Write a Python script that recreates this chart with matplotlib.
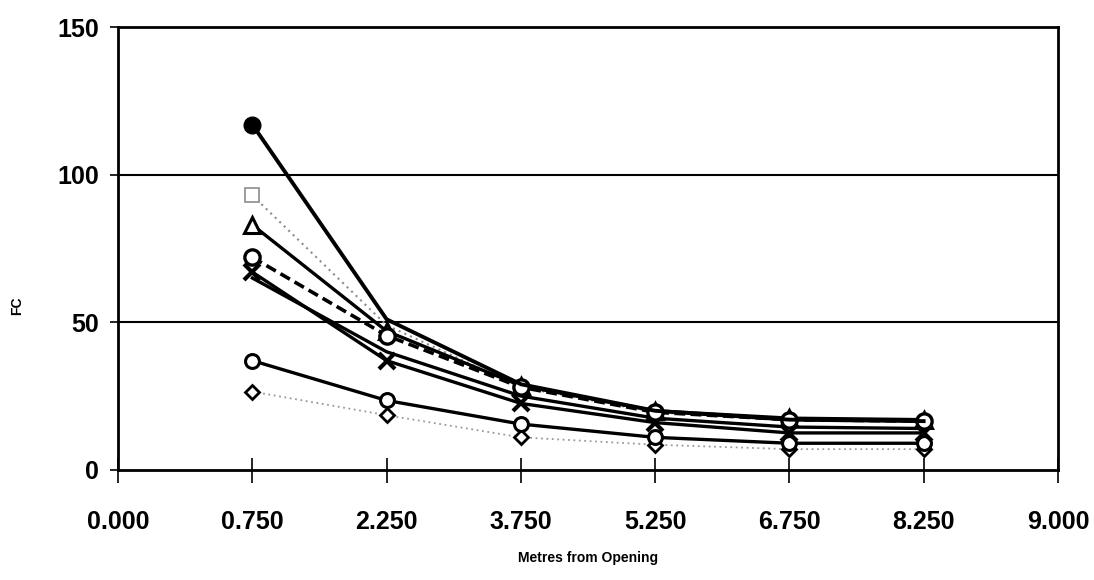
import matplotlib
matplotlib.use("Agg")
import matplotlib.pyplot as plt

# eje x por categorias (distancia a la abertura)
tick_labels = ["0.000", "0.750", "2.250", "3.750", "5.250", "6.750", "8.250", "9.000"]
x_cats = ["0.750", "2.250", "3.750", "5.250", "6.750", "8.250"]

fc_circulo_lleno = [117, 51, 29, 20, 17, 16.5]
fc_cuadrado = [93, 49, 28, 19.5, 17, 16.5]
fc_triangulo = [83, 47, 28.5, 20, 17.5, 17]
fc_circulo = [72, 45.5, 28, 19.5, 17, 16.5]
fc_sin_marca = [65, 40, 25, 17.5, 14.5, 14]
fc_cruz = [67, 37, 22.5, 16, 12.5, 12.5]
fc_circulo_bajo = [37, 23.5, 15.5, 11, 9, 9]
fc_rombo = [26.5, 18.5, 11, 8.5, 7, 7]

plt.rcParams['font.family'] = ['Liberation Sans', 'DejaVu Sans']
plt.rcParams['font.weight'] = 'bold'

x = [tick_labels.index(c) for c in x_cats]

fig = plt.figure(figsize=(10.94, 5.8), dpi=100)
ax = fig.add_axes([0.108, 0.19, 0.859, 0.763])

ax.plot(x, fc_rombo, color='#9a9a9a', lw=1.3, ls=(0, (1, 2)), zorder=2)
ax.plot(x, fc_rombo, ls='none', marker='D', ms=7, mfc='white', mec='black', mew=2, zorder=3)
ax.plot(x, fc_circulo_bajo, color='black', lw=2.4, marker='o', ms=10, mfc='white', mec='black', mew=2.2, zorder=4)
ax.plot(x, fc_sin_marca, color='black', lw=2.4, zorder=3)
ax.plot(x, fc_cruz, color='black', lw=2.4, marker='x', ms=11, mew=3, zorder=4)
ax.plot(x, fc_cuadrado, color='#8c8c8c', lw=1.5, ls=(0, (1, 2)), marker='s', ms=10,
        mfc='white', mec='#8c8c8c', mew=1.2, markevery=[0], zorder=3)
ax.plot(x, fc_triangulo, color='black', lw=2.4, marker='^', ms=12, mfc='white', mec='black', mew=2.2, zorder=4)
ax.plot(x, fc_circulo, color='black', lw=2.6, ls=(0, (3, 1.5)), marker='o', ms=11,
        mfc='white', mec='black', mew=2.4, zorder=5)
ax.plot(x, fc_circulo_lleno, color='black', lw=2.8, marker='o', ms=12, markevery=[0], zorder=5)

ax.set_xlim(0, len(tick_labels) - 1)
ax.set_ylim(0, 150)
ax.set_xticks(range(len(tick_labels)))
ax.set_xticklabels(tick_labels, fontsize=18)
ax.set_yticks([0, 50, 100, 150])
ax.set_yticklabels(["0", "50", "100", "150"], fontsize=18)
ax.tick_params(axis='x', direction='inout', length=18, width=1.2, pad=20)
ax.tick_params(axis='y', direction='out', length=6, width=1.2, pad=8)

for v in [50, 100]:
    ax.axhline(v, color='black', lw=1.5, zorder=1)
for s in ax.spines.values():
    s.set_linewidth(2)

ax.set_ylabel('FC', fontsize=10, fontweight='bold')
ax.yaxis.set_label_coords(-0.1, 0.37)
ax.set_xlabel('Metres from Opening', fontsize=10, fontweight='bold', labelpad=12)

fig.savefig('out.png', dpi=100)
